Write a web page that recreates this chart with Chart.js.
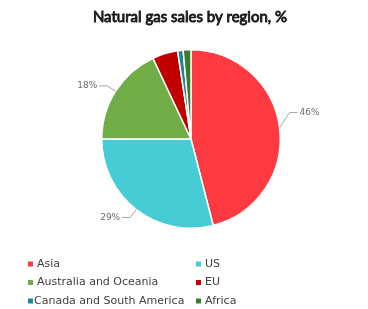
<!DOCTYPE html>
<html>
<head>
<meta charset="utf-8">
<script src="https://cdn.jsdelivr.net/npm/chart.js@4/dist/chart.umd.min.js"></script>
<style>
  html, body { margin: 0; padding: 0; background: #fff; }
  #wrap { width: 368px; height: 309px; position: relative; }
</style>
</head>
<body>
<div id="wrap"><canvas id="gasChart" width="368" height="309"></canvas></div>
<script>
const chartTitle = 'Natural gas sales by region, %';
const regions = ['Asia', 'US', 'Australia and Oceania', 'EU', 'Canada and South America', 'Africa'];
const shares = [46, 29, 18, 4.6, 1, 1.4];
const sliceColors = ['#FF3A40', '#46CCD4', '#70AD47', '#C00000', '#1E8796', '#3D7A2C'];
const labelledSlices = [0, 1, 2];

// title, drawn with a thin outline so it reads heavy
const heavyTitle = {
    id: 'heavyTitle',
    afterDraw(chart) {
        const ctx = chart.ctx;
        ctx.save();
        ctx.font = '15px Lato';
        ctx.fillStyle = '#1a1a1a';
        ctx.strokeStyle = '#1a1a1a';
        ctx.lineWidth = 0.9;
        ctx.textAlign = 'center';
        ctx.textBaseline = 'middle';
        ctx.fillText(chartTitle, 190, 17);
        ctx.strokeText(chartTitle, 190, 17);
        ctx.restore();
    }
};

// percentage labels with leader lines
const sliceLabels = {
    id: 'sliceLabels',
    afterDatasetsDraw(chart) {
        const ctx = chart.ctx;
        const meta = chart.getDatasetMeta(0);
        ctx.save();
        ctx.font = '9px "DejaVu Sans"';
        ctx.fillStyle = '#6b6b6b';
        ctx.strokeStyle = '#A6A6A6';
        ctx.lineWidth = 1;
        ctx.textBaseline = 'middle';
        labelledSlices.forEach(function(i) {
            const arc = meta.data[i];
            const mid = (arc.startAngle + arc.endAngle) / 2;
            const r = arc.outerRadius;
            const x0 = arc.x + Math.cos(mid) * r;
            const y0 = arc.y + Math.sin(mid) * r;
            const right = Math.cos(mid) > 0;
            const x1 = arc.x + Math.cos(mid) * (r + 10);
            const y1 = arc.y + Math.sin(mid) * (r + 10) - (right ? 14 : 0);
            const x2 = x1 + (right ? 8 : -8);
            ctx.beginPath();
            ctx.moveTo(x0, y0);
            ctx.lineTo(x1, y1);
            ctx.lineTo(x2, y1);
            ctx.stroke();
            ctx.textAlign = right ? 'left' : 'right';
            ctx.fillText(Math.round(shares[i]) + '%', x2 + (right ? 2 : -2), y1);
        });
        ctx.restore();
    }
};

// two-column legend under the pie
const gridLegend = {
    id: 'gridLegend',
    afterDraw(chart) {
        const ctx = chart.ctx;
        ctx.save();
        ctx.font = '11px "DejaVu Sans"';
        ctx.textBaseline = 'middle';
        ctx.textAlign = 'left';
        regions.forEach(function(name, i) {
            const col = i % 2;
            const row = Math.floor(i / 2);
            const x = col === 0 ? 28 : 196;
            const y = 264 + row * 18.5;
            ctx.fillStyle = sliceColors[i];
            ctx.fillRect(x, y - 2.5, 5, 5);
            ctx.fillStyle = '#404040';
            ctx.fillText(name, x + (i === 4 ? 6 : 9), y);
        });
        ctx.restore();
    }
};

new Chart(document.getElementById('gasChart').getContext('2d'), {
    type: 'pie',
    data: {
        labels: regions,
        datasets: [{
            data: shares,
            backgroundColor: sliceColors,
            borderColor: '#ffffff',
            borderWidth: 1.5
        }]
    },
    options: {
        responsive: false,
        animation: false,
        layout: {
            padding: { top: 49, bottom: 80, left: 101, right: 87 }
        },
        plugins: {
            legend: { display: false },
            tooltip: { enabled: false },
            title: { display: false }
        }
    },
    plugins: [sliceLabels, gridLegend, heavyTitle]
});
</script>
</body>
</html>
